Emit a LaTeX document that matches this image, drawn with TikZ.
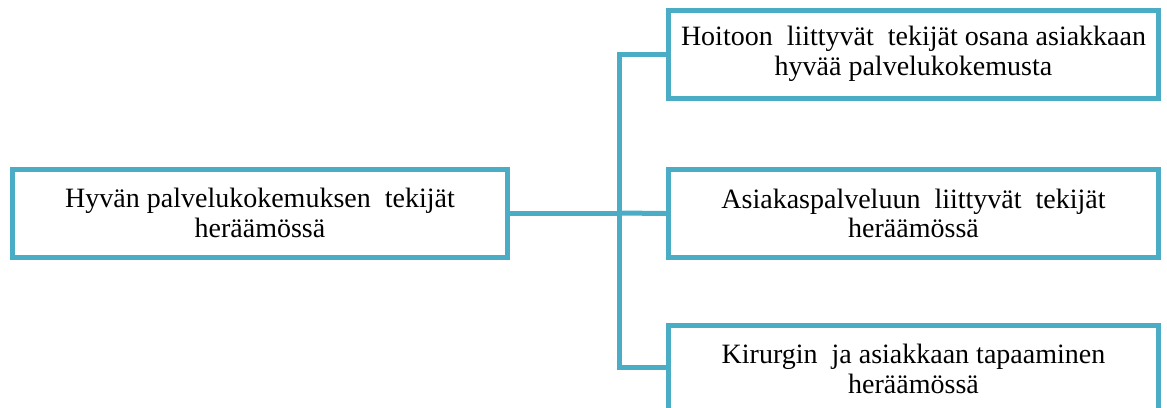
\documentclass[tikz,border=0pt]{standalone}
\usepackage{fontspec}
\setmainfont{Liberation Serif}
\definecolor{teal}{HTML}{4BACC6}
\begin{document}
\begin{tikzpicture}[x=1pt,y=-1pt,
  box/.style={draw=teal,line width=5pt,fill=white,align=center,inner sep=0pt,
    minimum height=88pt,font=\fontsize{28}{29.5}\selectfont},
  conn/.style={draw=teal,line width=5pt}]
\useasboundingbox (0,0) rectangle (1167,407);
\clip (0,0) rectangle (1167,407);
\coordinate (j) at (619,213);
\node[box,minimum width=495pt] (left) at (260,213) {Hyvän palvelukokemuksen\ \ tekijät\\heräämössä};
\node[box,minimum width=490pt] (top) at (913.5,54) {Hoitoon\ \ liittyvät\ \ tekijät osana asiakkaan\\hyvää palvelukokemusta};
\node[box,minimum width=490pt] (mid) at (913.5,213.5) {Asiakaspalveluun\ \ liittyvät\ \ tekijät\\heräämössä};
\node[box,minimum width=490pt] (bot) at (913.5,369) {Kirurgin\ \ ja asiakkaan tapaaminen\\heräämössä};
\draw[conn] (left.east) -- (j);
\draw[conn,line join=miter] (j) |- (top.west);
\draw[conn] (j) -- (mid.west);
\draw[conn,line join=miter] (j) |- ([yshift=2pt]bot.west);
\end{tikzpicture}
\end{document}
